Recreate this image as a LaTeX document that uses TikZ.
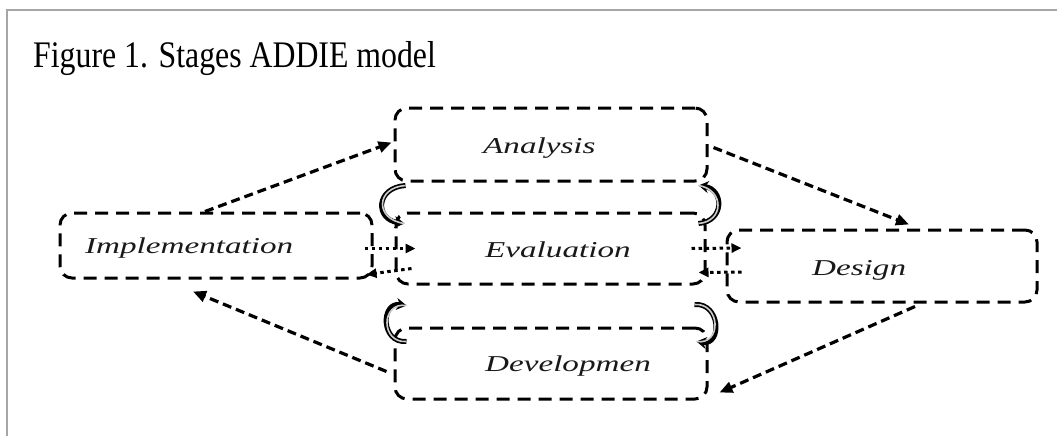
\documentclass[tikz,border=0pt]{standalone}
\usepackage{fontspec}
\usepackage{graphicx}
\setmainfont{Liberation Serif}
\usetikzlibrary{arrows.meta,calc}

% stage labels: wide italic serif
\newcommand{\stagetext}[1]{\scalebox{1.46}[1]{\fontsize{22.7}{26}\selectfont\itshape #1}}
% caption: slightly tall serif
\newcommand{\figtitle}[1]{\scalebox{1}[1.18]{\fontsize{31.8}{36}\selectfont #1}}

\tikzset{
  stagebox/.style={draw=black, line width=3pt, dash pattern=on 13pt off 8pt,
    rounded corners=12pt, inner sep=0pt},
  stagelabel/.style={anchor=base west, inner sep=0pt, text=black!90},
  flowarrow/.style={draw=black, line width=3.2pt, dash pattern=on 9pt off 5pt,
    -{Triangle[length=13pt,width=11pt]}},
  feedback/.style={draw=black, line width=3pt, dash pattern=on 3.5pt off 3.5pt,
    -{Triangle[length=10pt,width=9pt]}},
  cyclearrow/.style={draw=gray!40, line width=1.6pt,
    preaction={draw=black, line width=5pt, -{Stealth[length=10pt,width=12pt]}}},
}

\begin{document}
\begin{tikzpicture}[x=1pt,y=-1pt]
  \useasboundingbox (0,0) rectangle (1057,436);

  % page frame
  \draw[gray!70, line width=2pt] (7,436) -- (7,10) -- (1057,10);

  % caption
  \node[anchor=base west, inner sep=0pt] (title) at (33,67) {\figtitle{Figure 1. Stages ADDIE model}};

  % stage boxes
  \node[stagebox, minimum width=312pt, minimum height=73pt] (ana) at (551,144.5) {};
  \node[stagebox, minimum width=309pt, minimum height=71pt] (eva) at (550.5,248.5) {};
  \node[stagebox, minimum width=312pt, minimum height=65pt] (imp) at (216,245.5) {};
  \node[stagebox, minimum width=310pt, minimum height=72pt] (des) at (882,266) {};
  \node[stagebox, minimum width=312pt, minimum height=71pt] (dev) at (551,363.5) {};

  % stage names
  \node[stagelabel] (anat) at (483,153) {\stagetext{Analysis}};
  \node[stagelabel] (evat) at (485,257) {\stagetext{Evaluation}};
  \node[stagelabel] (impt) at (85,253) {\stagetext{Implementation}};
  \node[stagelabel] (dest) at (812,275) {\stagetext{Design}};
  \node[stagelabel] (devt) at (485,371) {\stagetext{Developmen}};

  % main cycle
  \draw[flowarrow] ($(imp.north)+(-11,0)$) -- ($(ana.west)+(-2,-2)$);
  \draw[flowarrow] ($(ana.east)+(5,3)$) -- ($(des.north)+(27,-4)$);
  \draw[flowarrow] ($(des.south)+(33,3)$) -- ($(dev.south east)+(11,-8)$);
  \draw[flowarrow] ($(dev.west)+(-7,8)$) -- ($(imp.south)+(-23,12)$);

  % feedback between evaluation and its neighbours
  \draw[feedback] ($(imp.east)+(-9,3)$) -- ($(eva.west)+(21,0)$);
  \draw[feedback] ($(eva.west)+(17,20)$) -- ($(imp.south east)+(-7,-5)$);
  \draw[feedback] ($(eva.east)+(-15,0)$) -- ($(des.west)+(16,-18)$);
  \draw[feedback] ($(des.west)+(16,6)$) -- ($(eva.east)+(-8,24)$);

  % curved arrows linking evaluation with analysis and development
  \draw[cyclearrow] ($(ana.south west)+(12,3)$) .. controls +(-30,2) and +(-30,-4) .. ($(eva.north west)+(10,12)$);
  \draw[cyclearrow] ($(eva.north east)+(-8,12)$) .. controls +(26,-2) and +(26,4) .. ($(ana.south east)+(-10,3)$);
  \draw[cyclearrow] ($(dev.north west)+(13,15)$) .. controls +(-26,2) and +(-26,-4) .. ($(eva.south west)+(12,20)$);
  \draw[cyclearrow] ($(eva.south east)+(-12,19)$) .. controls +(26,-2) and +(26,4) .. ($(dev.north east)+(-12,15)$);
\end{tikzpicture}
\end{document}
